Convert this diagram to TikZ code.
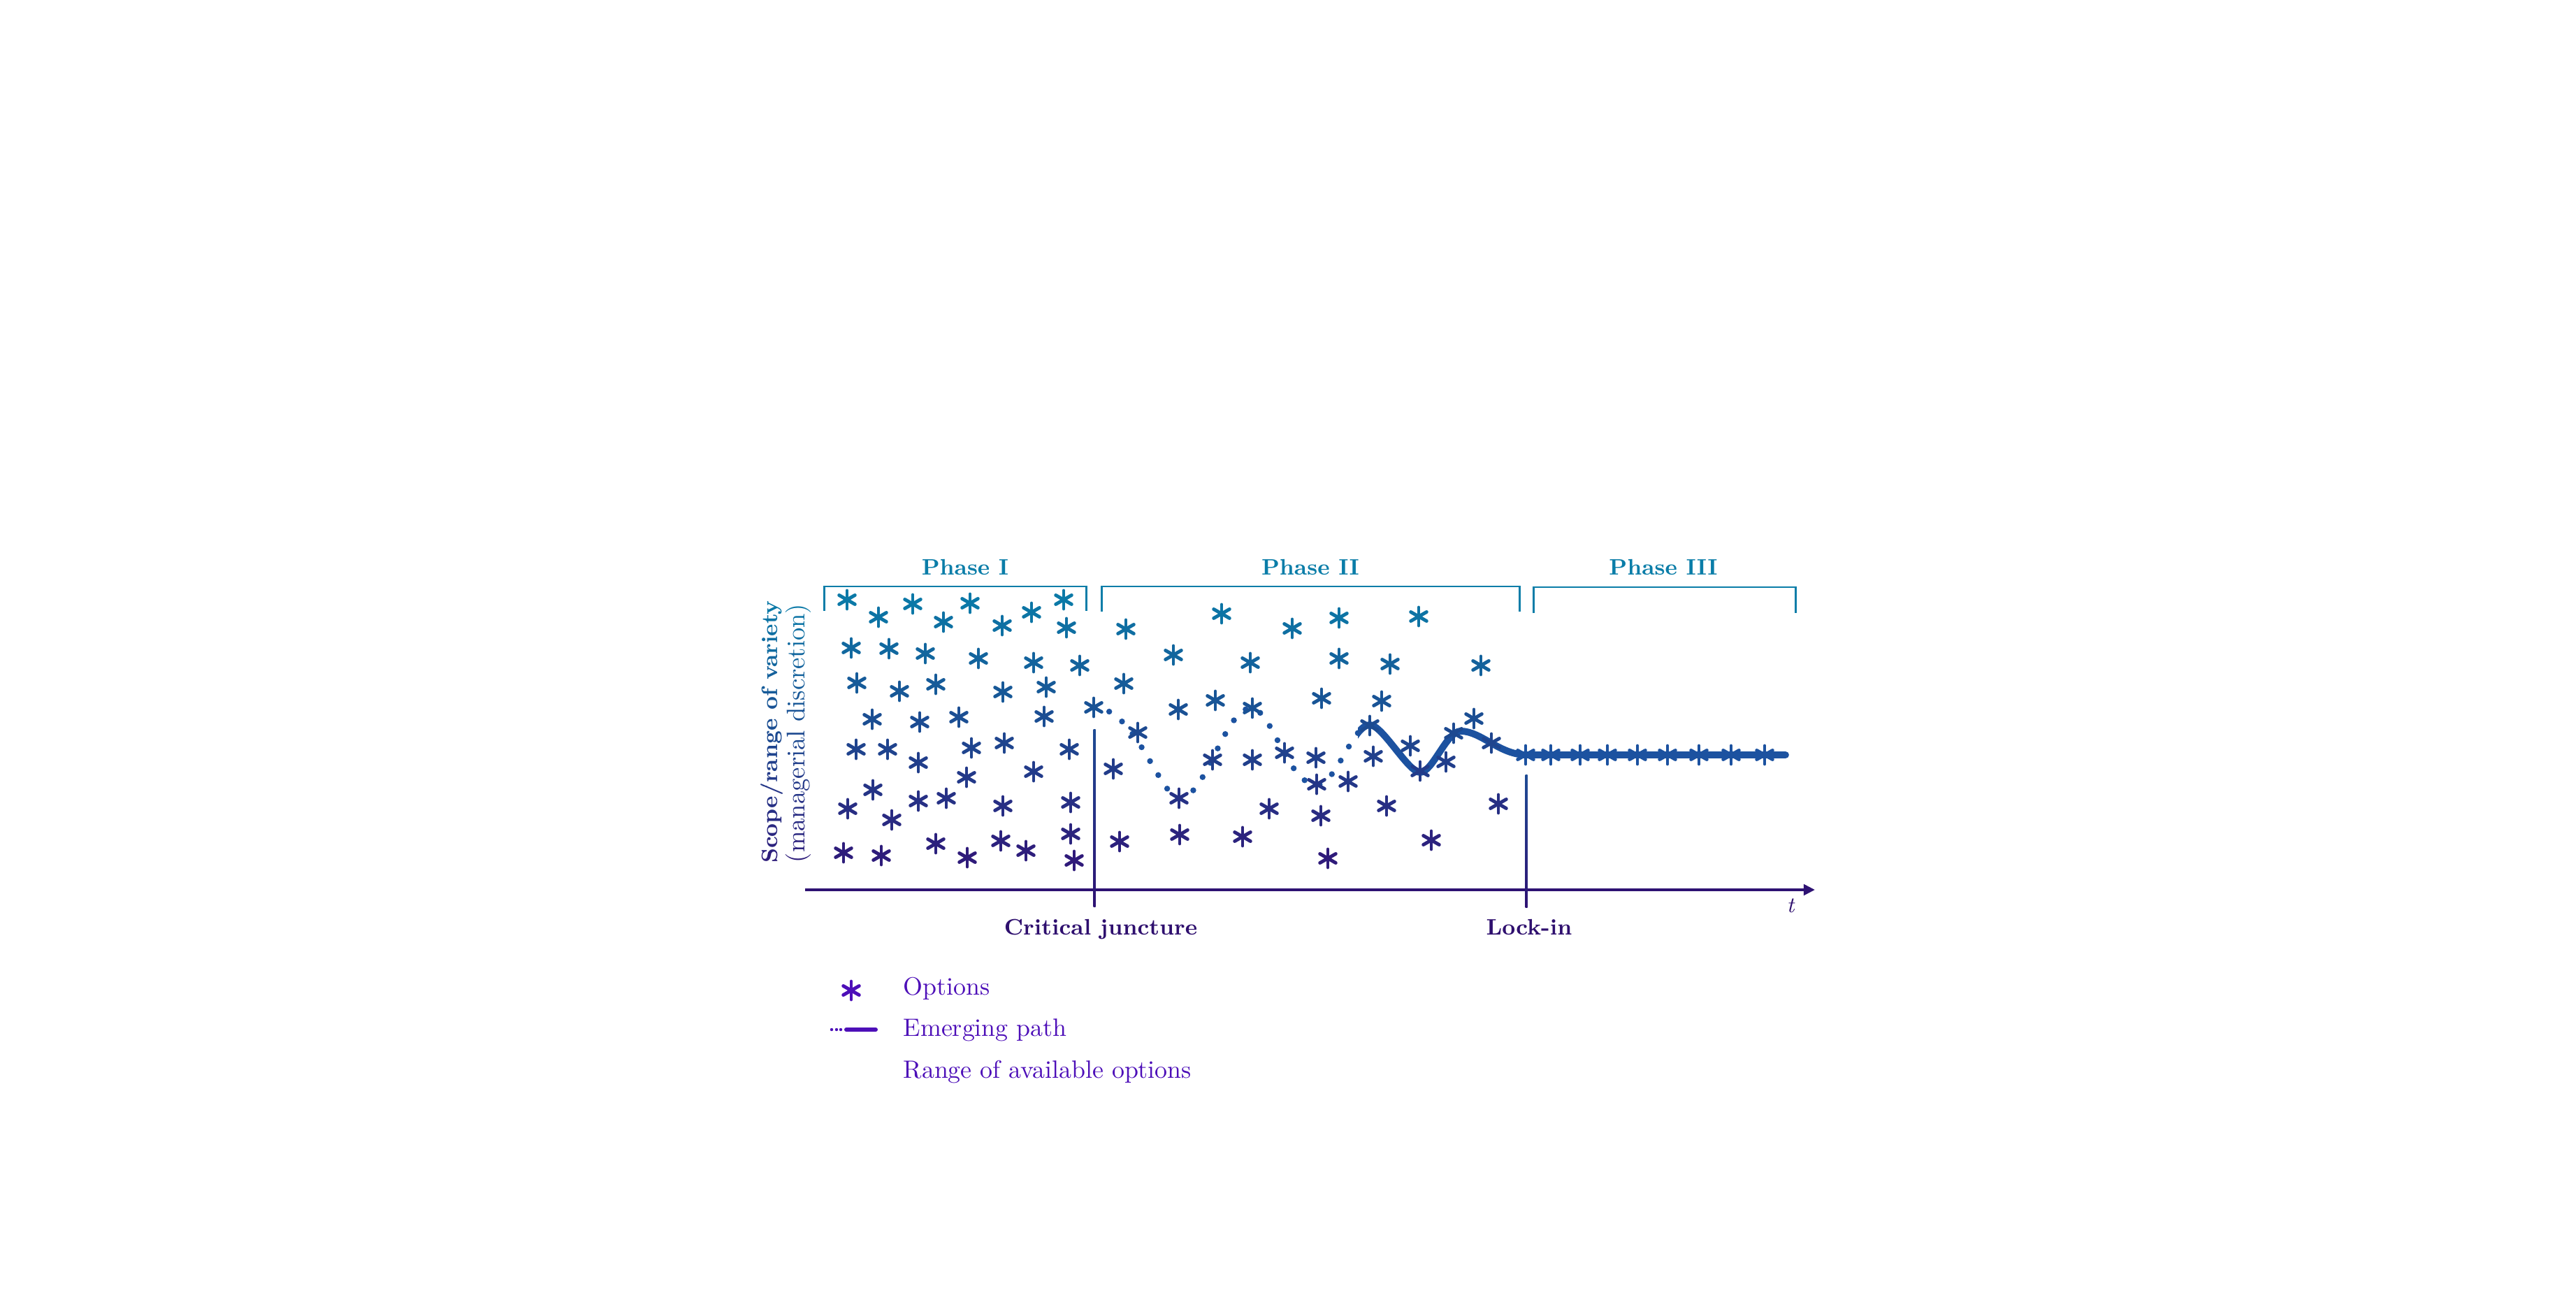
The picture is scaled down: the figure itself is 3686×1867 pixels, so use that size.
\documentclass[tikz,border=0pt]{standalone}
\usepackage{fontspec}
\usetikzlibrary{arrows.meta}
\definecolor{cTop}{HTML}{0A7BA8}
\definecolor{cBot}{HTML}{2F1A7A}
\definecolor{cHead}{HTML}{0A7DA8}
\definecolor{cPath}{HTML}{1C52A0}
\definecolor{cAxis}{HTML}{2E1273}
\definecolor{cLine}{HTML}{1F4C94}
\definecolor{cLab}{HTML}{2E0F6E}
\definecolor{cLeg}{HTML}{4D0FB8}
\newcommand\myast[3]{%
  \draw[astk,#3] (#1,#2) ++(0,-13) -- ++(0,26);
  \draw[astk,#3] (#1,#2) ++(-11.3,-6.5) -- ++(22.6,13);
  \draw[astk,#3] (#1,#2) ++(-11.3,6.5) -- ++(22.6,-13);
}
\begin{document}
\begin{tikzpicture}[x=0.01cm,y=-0.01cm,
  astk/.style={line width=1.4pt,line cap=round},
  brk/.style={draw=cHead,line width=0.85pt,line join=miter},
  headtxt/.style={text=cHead,font=\fontsize{9.1pt}{11pt}\selectfont\bfseries,anchor=base,inner sep=0pt},
  labtxt/.style={text=cLab,font=\fontsize{9.1pt}{11pt}\selectfont\bfseries,anchor=base,inner sep=0pt},
  legtxt/.style={text=cLeg,font=\fontsize{10.2pt}{12pt}\selectfont,anchor=base west,inner sep=0pt},
  dotpath/.style={draw=cPath,line width=2.4pt,line cap=round,dash pattern=on 0pt off 6.6pt},
  solpath/.style={draw=cPath,line width=2.8pt,line cap=round,line join=round}]
\useasboundingbox (0,0) rectangle (3686,1867);

% ---------- phase brackets ----------
\draw[brk] (1179,874) -- (1179,839) -- (1554,839) -- (1554,874);
\draw[brk] (1576,875) -- (1576,839) -- (2174,839) -- (2174,875);
\draw[brk] (2194,877) -- (2194,840) -- (2569,840) -- (2569,877);
\node[headtxt] (ph1) at (1381,823) {Phase I};
\node[headtxt] (ph2) at (1875,823) {Phase II};
\node[headtxt] (ph3) at (2380,823) {Phase III};

% ---------- y-axis label with vertical colour gradient ----------
\foreach \i in {0,...,19} {
  \pgfmathsetmacro\ya{858+\i*19}
  \pgfmathsetmacro\yb{\ya+19.5}
  \pgfmathtruncatemacro\p{(\i+0.5)/20*100}
  \begin{scope}
    \clip (1060,\ya) rectangle (1175,\yb);
    \node[rotate=90,inner sep=0pt,text=cBot!\p!cTop,font=\fontsize{9.1pt}{10pt}\selectfont\bfseries] (yl\i) at (1104,1047) {Scope/range of variety};
    \node[rotate=90,inner sep=0pt,text=cBot!\p!cTop,font=\fontsize{10.4pt}{12pt}\selectfont] (ym\i) at (1142,1049) {(managerial discretion)};
  \end{scope}
}

% ---------- axes and markers ----------
\coordinate (ax0) at (1152,1273);
\coordinate (ax1) at (2597,1273);
\draw[cAxis,line width=1.1pt,-{Triangle[length=4.6pt,width=4.4pt]}] (ax0) -- (ax1);
\shade[top color=cLine,bottom color=cAxis] (1564.5,1043) rectangle (1567.5,1297);
\shade[top color=cLine,bottom color=cAxis] (2182.5,1108) rectangle (2185.5,1298);
\node[labtxt] (cj) at (1575,1337) {Critical juncture};
\node[labtxt] (li) at (2188,1337) {Lock-in};
\node[text=cLab,font=\fontsize{9pt}{10pt}\selectfont\itshape,anchor=base,inner sep=0pt] (tl) at (2562,1305) {t};

% ---------- emerging path ----------
\coordinate (S) at (1565,1012);
\coordinate (T1) at (1688,1142);
\coordinate (P1) at (1790,1013);
\coordinate (T2) at (1884,1123);
\coordinate (P2) at (1960,1037);
\coordinate (T3) at (2032,1105);
\coordinate (P3) at (2090,1046);
\coordinate (E) at (2185,1080);
\coordinate (F) at (2555,1080);
\begin{scope}
  \clip (1500,900) rectangle (1943,1200);
  \draw[dotpath] (S) .. controls (1625,1012) and (1660,1142) .. (T1)
    .. controls (1725,1142) and (1753,1013) .. (P1)
    .. controls (1820,1013) and (1842,1122) .. (T2)
    .. controls (1912,1123) and (1935,1037) .. (P2);
\end{scope}
\begin{scope}
  \clip (1943,900) rectangle (2600,1200);
  \draw[solpath] (T2) .. controls (1912,1123) and (1935,1037) .. (P2)
    .. controls (1978,1037) and (2015,1105) .. (T3)
    .. controls (2050,1105) and (2070,1046) .. (P3)
    .. controls (2120,1046) and (2145,1080) .. (E) -- (F);
\end{scope}

% ---------- options (asterisks) ----------
\foreach \x/\y in {
  1212/858,1257/883,1306/864,1350/890,1388/863,1434/895,1476/876,1522/858,1526/898,
  1218/927,1272/928,1324/935,1400/942,1479/948,1545/952,
  1226/977,1287/989,1339/979,1435/990,1497/983,
  1248/1029,1316/1033,1372/1026,1494/1025,1565/1012,
  1225/1072,1270/1072,1390/1070,1437/1063,1530/1072,
  1314/1091,1479/1104,1383/1112,1249/1130,
  1213/1157,1276/1173,1314/1146,1354/1142,1435/1153,1532/1148,
  1207/1220,1261/1224,1339/1207,1384/1227,1432/1203,1468/1217,1532/1193,1537/1231,
  1611/900,1748/878,1849/899,1916/884,2030/882,
  1679/937,1789/948,1916/942,1989/950,2119/952,
  1608/978,1686/1015,1739/1002,1792/1013,1891/999,1977/1003,
  1628/1048,1593/1100,1735/1087,1792/1087,1838/1077,1883/1084,
  1960/1038,1965/1082,2018/1067,2109/1028,2080/1049,2134/1063,
  2069/1090,2032/1103,1884/1122,1929/1118,1687/1142,
  1816/1157,1890/1167,1984/1153,2144/1150,
  1602/1204,1688/1194,1778/1197,1900/1228,2048/1202} {
  \pgfmathtruncatemacro\p{max(0,min(100,(\y-850)/3.8))}
  \myast{\x}{\y}{cBot!\p!cTop}
}
\foreach \x in {2183,2219,2261,2300,2343,2386,2431,2477,2525} {
  \myast{\x}{1080}{cPath}
}

% ---------- legend ----------
\myast{1218}{1417}{cLeg}
\node[legtxt] (lg1) at (1292,1423) {Options};
\fill[cLeg] (1190,1473) circle (2.2);
\fill[cLeg] (1197,1473) circle (2.2);
\fill[cLeg] (1203,1473) circle (2.2);
\coordinate (lgA) at (1211,1473);
\coordinate (lgB) at (1253,1473);
\draw[cLeg,line width=1.7pt,line cap=round] (lgA) -- (lgB);
\node[legtxt] (lg2) at (1292,1482) {Emerging path};
\node[legtxt] (lg3) at (1292,1542) {Range of available options};
\end{tikzpicture}
\end{document}
